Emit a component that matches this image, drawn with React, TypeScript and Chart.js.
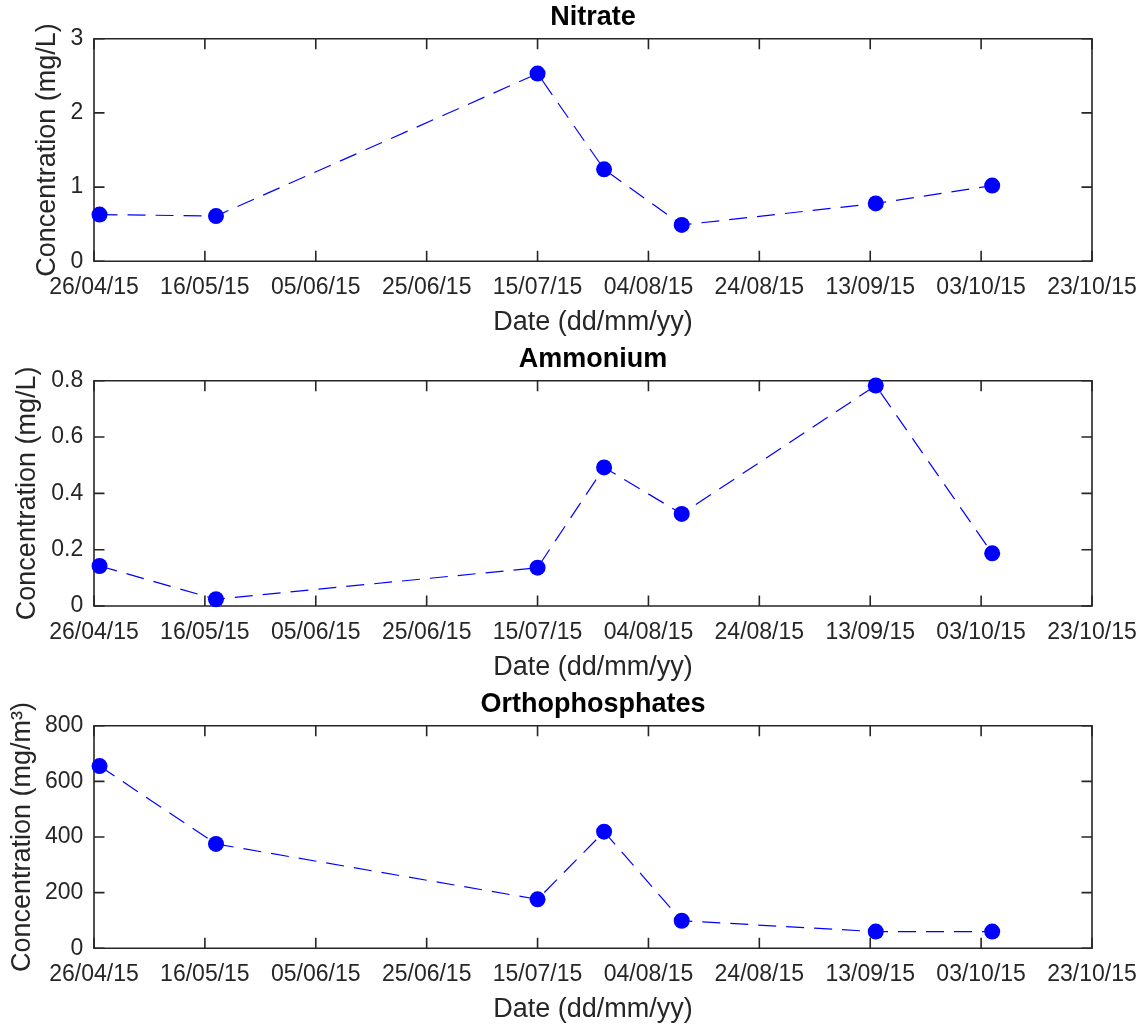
import React, { useEffect, useRef } from 'react';
import { Chart, registerables } from 'chart.js';

Chart.register(...registerables);

const FONT = '"Liberation Sans", Arial, Helvetica, sans-serif';
const AXIS_COLOR = '#262626';
const LINE_COLOR = '#0000FF';

// x axis range and ticks (dates)
const axisStartDate = '2015-04-26';
const axisEndDate = '2015-10-23';
const xTickStepDays = 20;

// sampling dates (shared by the three panels)
const sampleDates = [
  '2015-04-27',
  '2015-05-18',
  '2015-07-15',
  '2015-07-27',
  '2015-08-10',
  '2015-09-14',
  '2015-10-05',
];

// series values
const nitrateValues = [0.63, 0.61, 2.53, 1.24, 0.49, 0.78, 1.02];
const ammoniumValues = [0.142, 0.024, 0.136, 0.492, 0.327, 0.783, 0.187];
const orthophosphateValues = [655, 375, 176, 419, 99, 60, 60];

// y axis ranges: [min, max, step]
const nitrateYRange = [0, 3, 1];
const ammoniumYRange = [0, 0.8, 0.2];
const orthophosphateYRange = [0, 800, 200];

const DAY = 86400000;
const startMs = Date.parse(axisStartDate + 'T00:00:00Z');
const toDay = (s: string) => (Date.parse(s + 'T00:00:00Z') - startMs) / DAY;
const totalDays = toDay(axisEndDate);
const pad2 = (n: number) => (n < 10 ? '0' : '') + n;
const fmtDay = (d: number) => {
  const dt = new Date(startMs + Math.round(d) * DAY);
  return pad2(dt.getUTCDate()) + '/' + pad2(dt.getUTCMonth() + 1) + '/' + pad2(dt.getUTCFullYear() % 100);
};

const boxPlugin = {
  id: 'matlabBox',
  beforeDatasetsDraw(chart: any) {
    const { ctx, chartArea: a, scales } = chart;
    const xs = scales.x;
    const ys = scales.y;
    const L = 10.5;
    ctx.save();
    ctx.strokeStyle = AXIS_COLOR;
    ctx.lineWidth = 1.6;
    ctx.beginPath();
    ctx.rect(a.left, a.top, a.right - a.left, a.bottom - a.top);
    ctx.stroke();
    ctx.beginPath();
    xs.ticks.forEach((t: any) => {
      const p = xs.getPixelForValue(t.value);
      ctx.moveTo(p, a.bottom);
      ctx.lineTo(p, a.bottom - L);
      ctx.moveTo(p, a.top);
      ctx.lineTo(p, a.top + L);
    });
    ys.ticks.forEach((t: any) => {
      const p = ys.getPixelForValue(t.value);
      ctx.moveTo(a.left, p);
      ctx.lineTo(a.left + L, p);
      ctx.moveTo(a.right, p);
      ctx.lineTo(a.right - L, p);
    });
    ctx.stroke();
    ctx.restore();
  },
};

type PanelProps = {
  top: number;
  height: number;
  plotBottom: number;
  title: string;
  values: number[];
  yRange: number[];
  yLabel: string;
  yTitlePad: number;
};

function Panel({ top, height, plotBottom, title, values, yRange, yLabel, yTitlePad }: PanelProps) {
  const ref = useRef<HTMLCanvasElement>(null);
  useEffect(() => {
    const xScaleHeight = height - plotBottom;
    const xTitlePadBottom = Math.max(0, height - 16.2 - (plotBottom + 61.5));
    const chart = new Chart(ref.current as HTMLCanvasElement, {
      type: 'line',
      data: {
        datasets: [
          {
            data: sampleDates.map((d, i) => ({ x: toDay(d), y: values[i] })),
            borderColor: LINE_COLOR,
            borderWidth: 1.2,
            borderDash: [18, 10],
            pointRadius: 8,
            pointHoverRadius: 8,
            pointBackgroundColor: LINE_COLOR,
            pointBorderWidth: 0,
            tension: 0,
            fill: false,
            clip: false,
          } as any,
        ],
      },
      options: {
        responsive: false,
        animation: false,
        devicePixelRatio: 1,
        layout: { padding: { left: 0, right: 54, top: 0, bottom: 0 } },
        plugins: {
          legend: { display: false },
          tooltip: { enabled: false },
          title: {
            display: true,
            fullSize: false,
            text: title,
            color: '#000000',
            font: { family: FONT, size: 27, weight: 'bold' },
            padding: { top: 1.3, bottom: 5 },
          },
        },
        scales: {
          x: {
            type: 'linear',
            min: 0,
            max: totalDays,
            grid: { display: false, drawTicks: false },
            border: { display: false },
            ticks: {
              stepSize: xTickStepDays,
              autoSkip: false,
              maxRotation: 0,
              padding: 12.9,
              color: AXIS_COLOR,
              font: { family: FONT, size: 23 },
              callback: (v: any) => fmtDay(Number(v)),
            },
            title: {
              display: true,
              text: 'Date (dd/mm/yy)',
              color: AXIS_COLOR,
              font: { family: FONT, size: 27 },
              padding: { top: 0, bottom: xTitlePadBottom },
            },
            afterFit: (s: any) => {
              s.height = xScaleHeight;
              s.paddingLeft = 0;
              s.paddingRight = 0;
            },
          },
          y: {
            type: 'linear',
            min: yRange[0],
            max: yRange[1],
            grid: { display: false, drawTicks: false },
            border: { display: false },
            ticks: {
              stepSize: yRange[2],
              padding: 10.7,
              color: AXIS_COLOR,
              font: { family: FONT, size: 23 },
              callback: (v: any) => String(parseFloat(Number(v).toFixed(6))),
            },
            title: {
              display: true,
              text: yLabel,
              color: AXIS_COLOR,
              font: { family: FONT, size: 27 },
              padding: { top: yTitlePad, bottom: 0 },
            },
            afterFit: (s: any) => {
              s.width = 94;
            },
          },
        },
      } as any,
      plugins: [boxPlugin],
    });
    return () => chart.destroy();
  }, []);
  return (
    <div style={{ position: 'absolute', left: 0, top, width: 1146, height }}>
      <canvas ref={ref} width={1146} height={height} style={{ display: 'block' }} />
    </div>
  );
}

export default function App() {
  return (
    <div style={{ position: 'absolute', left: 0, top: 0, width: 1146, height: 1026, background: '#ffffff' }}>
      <Panel
        top={0}
        height={341}
        plotBottom={261.3}
        title="Nitrate"
        values={nitrateValues}
        yRange={nitrateYRange}
        yLabel="Concentration (mg/L)"
        yTitlePad={31}
      />
      <Panel
        top={342}
        height={343}
        plotBottom={264}
        title="Ammonium"
        values={ammoniumValues}
        yRange={ammoniumYRange}
        yLabel="Concentration (mg/L)"
        yTitlePad={11}
      />
      <Panel
        top={687}
        height={339}
        plotBottom={261.3}
        title="Orthophosphates"
        values={orthophosphateValues}
        yRange={orthophosphateYRange}
        yLabel="Concentration (mg/m³)"
        yTitlePad={6}
      />
    </div>
  );
}
